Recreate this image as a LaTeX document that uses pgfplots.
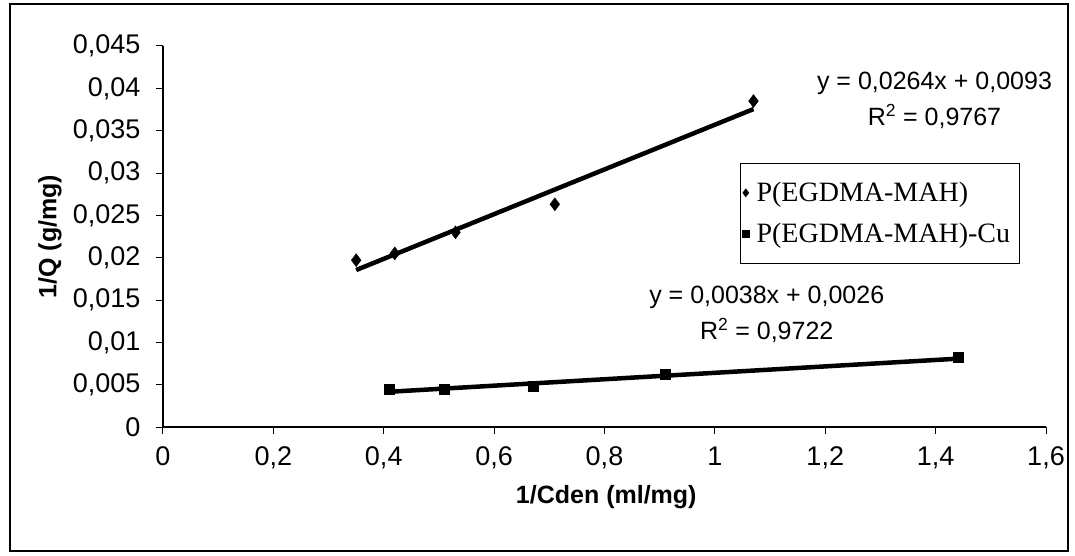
\documentclass[border=0pt]{standalone}
\usepackage{pgfplots}
\pgfplotsset{compat=1.18}
\usepackage{fontspec}
\setmainfont{Liberation Sans}
\newfontfamily\timesfont{Liberation Serif}
\begin{document}
\begin{tikzpicture}[x=1pt,y=1pt]
\useasboundingbox (-163,-128) rectangle (912,427);
\draw[line width=1.2pt] (-153,-124) rectangle (905,423);
\begin{axis}[
  at={(0,0)}, anchor=south west,
  scale only axis, width=883pt, height=381pt,
  xmin=0, xmax=1.6, ymin=0, ymax=0.045,
  axis x line*=bottom, axis y line*=left,
  axis line style={line width=1.3pt, -},
  clip=false,
  scaled y ticks=false, scaled x ticks=false,
  xtick={0,0.2,0.4,0.6,0.8,1,1.2,1.4,1.6},
  xticklabels={0,{0,2},{0,4},{0,6},{0,8},1,{1,2},{1,4},{1,6}},
  ytick={0,0.005,0.01,0.015,0.02,0.025,0.03,0.035,0.04,0.045},
  yticklabels={0,{0,005},{0,01},{0,015},{0,02},{0,025},{0,03},{0,035},{0,04},{0,045}},
  tick align=outside, major tick length=7pt,
  tick style={line width=1pt, black},
  ticklabel style={font=\fontsize{27}{30}\selectfont},
  xticklabel shift=9pt,
  yticklabel shift=12pt,
  xlabel={\bfseries 1/Cden (ml/mg)},
  ylabel={\bfseries 1/Q (g/mg)},
  label style={font=\fontsize{25}{28}\selectfont},
  xlabel style={at={(axis description cs:0.502,-0.184)}, anchor=center},
  ylabel style={at={(axis description cs:-0.128,0.5)}, anchor=center},
  legend style={at={(axis description cs:0.653,0.693)}, anchor=north west,
    font=\timesfont\fontsize{28}{30}\selectfont, draw=black, line width=0.8pt,
    row sep=16pt, inner xsep=2pt, inner ysep=17pt,
    nodes={inner xsep=7pt}},
  legend image post style={mark size=3.8pt},
  legend cell align=left,
]
\addplot[only marks, mark=diamond*, mark size=6.5pt, black] coordinates {
  (0.35,0.0197) (0.42,0.0205) (0.53,0.0230) (0.71,0.0263) (1.07,0.0385)};
\addlegendentry{P(EGDMA-MAH)}
\addplot[only marks, mark=square*, mark size=5pt, black] coordinates {
  (0.41,0.0045) (0.51,0.0045) (0.67,0.0048) (0.91,0.0062) (1.44,0.0083)};
\addlegendentry{P(EGDMA-MAH)-Cu}
\addplot[black, line width=4.5pt, forget plot] coordinates {
  (0.35,0.01854) (1.07,0.03755)};
\addplot[black, line width=4.5pt, forget plot] coordinates {
  (0.41,0.00416) (1.44,0.00807)};
\node[align=center, font=\fontsize{25}{36}\selectfont] at (axis cs:1.398,0.0386)
  {y = 0,0264x + 0,0093\\R\textsuperscript{2} = 0,9767};
\node[align=center, font=\fontsize{25}{36}\selectfont] at (axis cs:1.094,0.01335)
  {y = 0,0038x + 0,0026\\R\textsuperscript{2} = 0,9722};
\end{axis}
\end{tikzpicture}
\end{document}
